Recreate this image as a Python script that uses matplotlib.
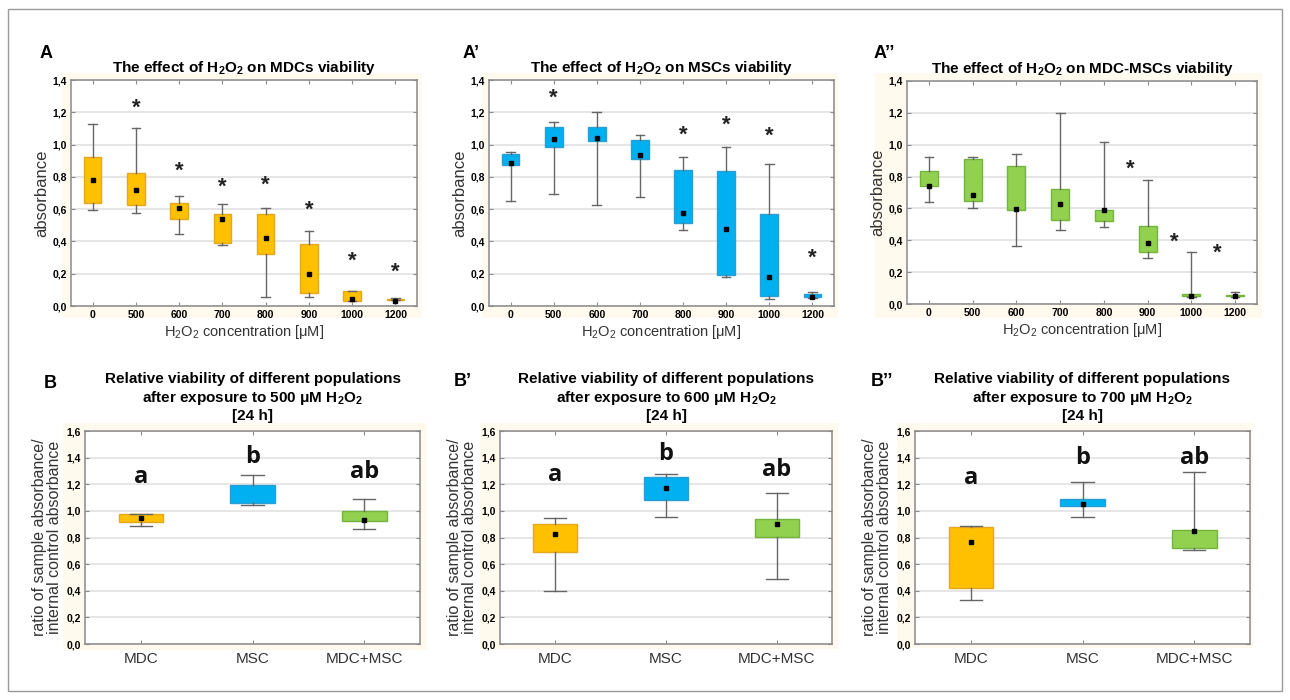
import matplotlib
matplotlib.use("Agg")
import matplotlib.pyplot as plt
import numpy as np
from matplotlib.patches import Rectangle
from matplotlib.ticker import FuncFormatter, MultipleLocator

plt.rcParams['font.family'] = ['Liberation Sans', 'DejaVu Sans']
plt.rcParams['mathtext.default'] = 'regular'

# H2O2 concentrations (top row)
conc = ['0', '500', '600', '700', '800', '900', '1000', '1200']

# MDCs: whisker low, box low, mean, box high, whisker high
mdc_wlo = [0.596, 0.578, 0.449, 0.376, 0.058, 0.058, 0.033, 0.035]
mdc_q1 = [0.641, 0.625, 0.538, 0.393, 0.323, 0.083, 0.033, 0.035]
mdc_mean = [0.782, 0.720, 0.608, 0.542, 0.424, 0.196, 0.043, 0.033]
mdc_q3 = [0.925, 0.823, 0.639, 0.569, 0.569, 0.381, 0.091, 0.041]
mdc_whi = [1.127, 1.104, 0.683, 0.629, 0.604, 0.467, 0.093, 0.052]
mdc_star_idx = [1, 2, 3, 4, 5, 6, 7]
mdc_star_y = [1.224, 0.836, 0.734, 0.747, 0.596, 0.277, 0.211]

# MSCs
msc_wlo = [0.651, 0.695, 0.625, 0.678, 0.472, 0.182, 0.046, 0.052]
msc_q1 = [0.871, 0.982, 1.020, 0.908, 0.517, 0.194, 0.062, 0.056]
msc_mean = [0.887, 1.034, 1.038, 0.937, 0.575, 0.474, 0.180, 0.054]
msc_q3 = [0.941, 1.111, 1.107, 1.028, 0.844, 0.836, 0.571, 0.072]
msc_whi = [0.956, 1.140, 1.200, 1.059, 0.922, 0.982, 0.879, 0.087]
msc_star_idx = [1, 4, 5, 6, 7]
msc_star_y = [1.290, 1.059, 1.119, 1.050, 0.294]

# MDC-MSCs
mix_wlo = [0.641, 0.604, 0.361, 0.464, 0.481, 0.290, 0.046, 0.046]
mix_q1 = [0.740, 0.644, 0.587, 0.527, 0.518, 0.328, 0.048, 0.048]
mix_mean = [0.742, 0.683, 0.598, 0.629, 0.587, 0.380, 0.050, 0.048]
mix_q3 = [0.836, 0.909, 0.869, 0.719, 0.591, 0.491, 0.060, 0.058]
mix_whi = [0.926, 0.924, 0.942, 1.197, 1.015, 0.777, 0.328, 0.073]
mix_star_idx = [4, 5, 6]
mix_star_y = [0.848, 0.387, 0.320]

# bottom row: relative viability
groups = ['MDC', 'MSC', 'MDC+MSC']
r500_wlo = [0.889, 1.042, 0.866]
r500_q1 = [0.919, 1.057, 0.926]
r500_mean = [0.944, np.nan, 0.934]
r500_q3 = [0.974, 1.192, 0.999]
r500_whi = [0.976, 1.272, 1.089]
r500_letters = ['a', 'b', 'ab']
r500_letter_y = [1.257, 1.407, 1.294]

r600_wlo = [0.398, 0.956, 0.486]
r600_q1 = [0.691, 1.084, 0.804]
r600_mean = [0.824, 1.169, 0.904]
r600_q3 = [0.901, 1.257, 0.941]
r600_whi = [0.949, 1.274, 1.132]
r600_letters = ['a', 'b', 'ab']
r600_letter_y = [1.270, 1.425, 1.307]

r700_wlo = [0.333, 0.956, 0.704]
r700_q1 = [0.423, 1.037, 0.719]
r700_mean = [0.766, 1.052, 0.849]
r700_q3 = [0.879, 1.092, 0.859]
r700_whi = [0.884, 1.214, 1.294]
r700_letters = ['a', 'b', 'ab']
r700_letter_y = [1.244, 1.400, 1.400]

ORANGE, ORANGE_E = '#FFC000', '#E5A81C'
BLUE, BLUE_E = '#00B0F0', '#2A9FD6'
GREEN, GREEN_E = '#92D050', '#74B43C'
CREAM = '#FFF9EE'

W, H = 1290, 700
fig = plt.figure(figsize=(W / 100, H / 100), dpi=100)


def px_axes(l, t, r, b):
    return fig.add_axes([l / W, 1 - b / H, (r - l) / W, (b - t) / H])


def cream(l, t, r, b):
    fig.patches.append(Rectangle((l / W, 1 - b / H), (r - l) / W, (b - t) / H,
                                 transform=fig.transFigure, facecolor=CREAM,
                                 edgecolor='none', zorder=-10))


comma = FuncFormatter(lambda v, p: f"{v:.1f}".replace('.', ','))


def draw_boxes(ax, wlo, q1, mean, q3, whi, face, edge):
    stats = []
    for a, b, m, d, e in zip(wlo, q1, mean, q3, whi):
        stats.append(dict(whislo=a, q1=b, med=(b if np.isnan(m) else m), q3=d, whishi=e))
    pos = np.arange(len(stats))
    ax.bxp(stats, positions=pos, widths=0.41, capwidths=0.2, patch_artist=True,
           showfliers=False,
           boxprops=dict(facecolor=face, edgecolor=edge, linewidth=1),
           whiskerprops=dict(color='#666666', linewidth=1),
           capprops=dict(color='#666666', linewidth=1),
           medianprops=dict(visible=False))
    ax.plot(pos, mean, 's', color='black', ms=2.2, zorder=5, linestyle='none')


def style_axes(ax, ymax):
    ax.set_ylim(0, ymax)
    ax.yaxis.set_major_locator(MultipleLocator(0.2))
    ax.yaxis.set_major_formatter(comma)
    ax.set_facecolor('white')
    ax.set_axisbelow(True)
    ax.grid(axis='y', color='#e4e4e4', linewidth=1.3)
    for s in ax.spines.values():
        s.set_color('#8a8a8a')
        s.set_linewidth(1.1)
    ax.tick_params(axis='both', length=3, width=0.8, color='#8a8a8a',
                   top=True, right=True, direction='in', pad=3)
    for lab in ax.get_yticklabels():
        lab.set_fontweight('bold')
        lab.set_fontsize(7.5)


# ---------- top row ----------
cream(62, 73, 422, 318)
cream(482, 73, 838, 318)
cream(875, 73, 1262, 318)

top_rects = [(71, 80, 417, 306), (489, 80, 834, 306), (907, 81, 1257, 304)]
top_data = [(mdc_wlo, mdc_q1, mdc_mean, mdc_q3, mdc_whi, ORANGE, ORANGE_E, mdc_star_idx, mdc_star_y, 0.0),
            (msc_wlo, msc_q1, msc_mean, msc_q3, msc_whi, BLUE, BLUE_E, msc_star_idx, msc_star_y, 0.0),
            (mix_wlo, mix_q1, mix_mean, mix_q3, mix_whi, GREEN, GREEN_E, mix_star_idx, mix_star_y, 0.6)]
top_titles = ['The effect of H$_2$O$_2$ on MDCs viability',
              'The effect of H$_2$O$_2$ on MSCs viability',
              'The effect of H$_2$O$_2$ on MDC-MSCs viability']
top_letters = [('A', 46, 53), ('A\u2019', 471, 53), ('A\u2019\u2019', 884, 53)]

for rect, d, title, let in zip(top_rects, top_data, top_titles, top_letters):
    ax = px_axes(*rect)
    wlo, q1, mean, q3, whi, face, edge, sidx, sy, soff = d
    draw_boxes(ax, wlo, q1, mean, q3, whi, face, edge)
    for i, y in zip(sidx, sy):
        ax.text(i + soff, y, '*', ha='center', va='center', fontsize=16,
                fontweight='bold', color='#222222')
    ax.set_xlim(-0.5, len(conc) - 0.5)
    ax.set_xticks(np.arange(len(conc)))
    ax.set_xticklabels(conc, fontsize=7.5, fontweight='bold')
    style_axes(ax, 1.4)
    ax.set_title(title, fontsize=11, fontweight='bold', pad=6)
    ax.set_ylabel('absorbance', fontsize=12, color='#333333', labelpad=2)
    ax.set_xlabel('H$_2$O$_2$ concentration [\u03bcM]', fontsize=10.5,
                  color='#333333', labelpad=2)
    fig.text(let[1] / W, 1 - let[2] / H, let[0], fontsize=13, fontweight='bold',
             ha='center', va='center')

# ---------- bottom row ----------
cream(63, 423, 427, 650)
cream(480, 423, 838, 649)
cream(897, 423, 1253, 648)

bot_rects = [(85, 431, 420, 644), (500, 431, 832, 644), (915, 431, 1250, 644)]
bot_data = [(r500_wlo, r500_q1, r500_mean, r500_q3, r500_whi, r500_letters, r500_letter_y),
            (r600_wlo, r600_q1, r600_mean, r600_q3, r600_whi, r600_letters, r600_letter_y),
            (r700_wlo, r700_q1, r700_mean, r700_q3, r700_whi, r700_letters, r700_letter_y)]
bot_doses = ['500', '600', '700']
bot_letters = [('B', 50, 383), ('B\u2019', 463, 382), ('B\u2019\u2019', 882, 382)]
faces = [ORANGE, BLUE, GREEN]
edges = [ORANGE_E, BLUE_E, GREEN_E]

for rect, d, dose, let in zip(bot_rects, bot_data, bot_doses, bot_letters):
    ax = px_axes(*rect)
    wlo, q1, mean, q3, whi, letters, ly = d
    stats = [dict(whislo=a, q1=b, med=(b if np.isnan(m) else m), q3=c, whishi=e)
             for a, b, m, c, e in zip(wlo, q1, mean, q3, whi)]
    pos = np.arange(len(groups))
    bp = ax.bxp(stats, positions=pos, widths=0.4, capwidths=0.2, patch_artist=True,
                showfliers=False,
                whiskerprops=dict(color='#666666', linewidth=1),
                capprops=dict(color='#666666', linewidth=1),
                medianprops=dict(visible=False))
    for box, fc, ec in zip(bp['boxes'], faces, edges):
        box.set_facecolor(fc)
        box.set_edgecolor(ec)
        box.set_linewidth(1)
    ax.plot(pos, mean, 's', color='black', ms=2.2, zorder=5, linestyle='none')
    for x, t, y in zip(pos, letters, ly):
        ax.text(x, y, t, ha='center', va='center', fontsize=17, fontweight='bold',
                family=['Open Sans', 'DejaVu Sans'], color='#111111')
    ax.set_xlim(-0.5, len(groups) - 0.5)
    ax.set_xticks(pos)
    ax.set_xticklabels(groups, fontsize=11, color='#333333')
    style_axes(ax, 1.6)
    ax.tick_params(axis='x', pad=6)
    ax.set_title('Relative viability of different populations\n'
                 'after exposure to ' + dose + ' \u03bcM H$_2$O$_2$\n[24 h]',
                 fontsize=11, fontweight='bold', pad=8, linespacing=1.2)
    ax.set_ylabel('ratio of sample absorbance/\ninternal control absorbance',
                  fontsize=11.5, color='#333333', labelpad=3, linespacing=1.05)
    fig.text(let[1] / W, 1 - let[2] / H, let[0], fontsize=13, fontweight='bold',
             ha='center', va='center')

# outer frame
fig.patches.append(Rectangle((8 / W, 9 / H), 1274 / W, 682 / H, transform=fig.transFigure,
                             facecolor='none', edgecolor='#9a9a9a', linewidth=1))

fig.savefig('out.png', dpi=100)
